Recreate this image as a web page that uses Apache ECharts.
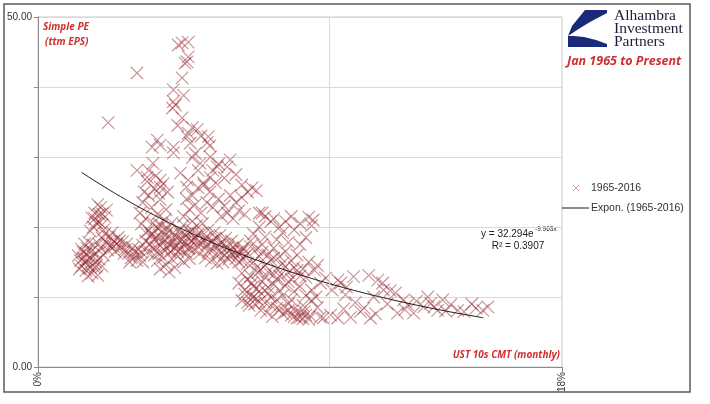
<!DOCTYPE html>
<html><head><meta charset="utf-8">
<script src="https://cdn.jsdelivr.net/npm/echarts@6/dist/echarts.min.js"></script>
<style>html,body{margin:0;padding:0;background:#fff}#c{width:710px;height:404px}</style>
</head><body><div id="c"></div>
<script>
const seriesName = '1965-2016';
const trendName = 'Expon. (1965-2016)';
const xTickLabels = {0: '0%', 18: '18%'};
const yTickLabels = {0: '0.00', 50: '50.00'};

// [UST 10y yield %, Simple PE (ttm EPS)]
const clusterLowLeft = [[1.38,15.9],[1.45,15.2],[1.5,14.4],[1.55,16.4],[1.6,15.0],[1.65,13.8],[1.7,16.9],[1.75,14.6],[1.8,15.6],[1.85,13.4],[1.9,17.4],[1.95,14.2],[2.0,16.2],[2.05,13.1],[2.1,15.4],[2.15,17.0],[2.2,14.4],[1.6,17.6],[1.72,13.0],[1.85,16.6],[1.5,16.8],[1.98,15.0],[2.08,17.6],[1.42,14.0],[1.55,15.6],[1.7,15.3],[1.8,14.2],[1.9,15.8],[2.0,14.4],[1.65,16.2],[1.75,17.8]];
const clusterLeftUpper = [[1.85,21.3],[1.95,22.0],[2.0,20.6],[2.1,21.8],[2.15,22.8],[2.2,20.3],[2.3,21.4],[2.35,22.4],[1.9,20.0],[2.05,23.2],[2.25,19.6],[1.8,19.4],[1.95,21.2],[2.1,20.7],[2.2,21.9]];
const clusterLeftBand = [[2.2,18.4],[2.3,19.0],[2.35,17.8],[2.45,18.6],[2.5,17.3],[2.55,19.2],[2.6,18.0],[2.7,17.6],[2.75,18.5],[2.85,17.1],[2.9,17.9],[3.0,16.8],[3.05,17.6],[2.4,16.7],[2.65,16.5],[2.95,16.2],[3.1,16.2],[3.2,15.6],[3.3,16.5],[3.4,15.2],[3.5,15.9],[3.6,15.0],[3.25,17.0],[3.45,16.8],[3.15,15.0],[2.25,16.0],[2.4,17.6],[2.6,17.2],[2.8,18.0],[3.35,15.8],[3.55,16.4]];
const outliers = [[2.41,34.9],[3.4,42.0]];
const clusterMidUpper = [[3.5,22.0],[3.6,23.5],[3.7,21.2],[3.8,24.5],[3.9,22.8],[4.0,25.5],[4.1,21.8],[4.2,23.9],[4.3,26.2],[4.4,22.5],[3.65,25.0],[3.95,20.6],[4.15,24.8],[4.35,21.0],[3.75,26.5],[4.05,27.3],[4.45,25.0],[3.55,20.4],[4.25,20.2]];
const clusterCore = [[3.8,19.5],[3.9,18.8],[4.0,18.2],[4.1,19.8],[4.2,18.5],[4.3,17.8],[4.4,18.9],[4.5,17.5],[4.6,18.3],[4.7,17.0],[4.8,17.8],[4.9,16.8],[5.0,17.4],[5.1,16.3],[5.2,17.0],[3.85,17.5],[3.95,16.9],[4.05,17.1],[4.15,16.2],[4.25,19.3],[4.35,16.7],[4.45,19.8],[4.55,16.4],[4.65,19.2],[4.75,18.6],[4.85,19.5],[4.95,18.2],[5.05,19.0],[5.15,18.5],[5.25,18.0],[4.0,16.0],[4.3,15.6],[4.6,15.4],[4.8,15.8],[3.7,18.0],[3.6,17.4],[3.75,16.4],[4.1,15.2],[4.4,14.6],[4.7,14.2],[4.5,13.6],[4.2,14.0],
  [3.9,19.0],[4.05,18.6],[4.2,17.3],[4.35,18.2],[4.5,19.4],[4.6,17.7],[4.75,17.3],[4.9,18.9],[5.05,17.8],[5.2,19.3],[4.45,16.9],[4.8,16.5],[5.15,16.9],[3.7,19.2],[4.15,20.4],[4.6,20.6],[5.0,20.3]];
const clusterCoreRight = [[5.3,19.5],[5.4,18.5],[5.5,17.8],[5.6,19.0],[5.7,18.2],[5.8,17.5],[5.9,16.8],[6.0,18.0],[6.1,17.2],[6.2,16.5],[6.3,17.8],[6.4,16.0],[6.5,17.0],[6.6,15.8],[6.7,16.5],[6.8,15.5],[6.9,16.2],[7.0,15.2],[7.1,15.8],[7.2,14.8],[5.45,20.2],[5.65,20.5],[5.85,19.6],[6.05,19.2],[6.25,18.8],[6.45,18.4],[6.65,18.0],[6.85,17.5],[7.05,17.0],[5.35,16.8],[5.55,16.2],[5.75,15.6],[5.95,15.2],[6.15,14.8],[6.35,15.0],[5.2,15.5],[5.0,15.0],
  [5.35,18.2],[5.5,19.0],[5.65,17.6],[5.8,18.6],[5.95,17.9],[6.1,18.4],[6.25,17.4],[6.4,17.6],[6.55,16.6],[6.7,17.1],[6.85,16.4],[7.0,16.5],[5.5,17.2],[5.85,16.4],[6.2,16.0],[6.55,15.4],[6.9,15.0],[5.3,20.8]];
const clusterUpperBand = [[5.0,21.5],[5.2,22.5],[5.4,23.2],[5.6,22.0],[5.8,23.5],[6.0,22.8],[6.2,24.0],[6.4,23.0],[6.6,24.5],[6.8,23.5],[7.0,24.2],[7.2,25.0],[7.35,25.6],[7.5,25.2],[5.3,24.5],[5.5,25.6],[5.7,26.0],[5.9,25.0],[6.1,26.3],[6.3,21.5],[6.5,22.0],[6.7,21.2],[6.9,22.3],[7.1,21.8],[5.1,24.0],[7.6,22.0],[7.8,21.5],[8.0,20.8],[7.7,22.0],[8.1,21.2],[8.5,20.8],[8.7,21.5],[9.0,20.5],[9.3,21.4],[9.45,21.0],[9.4,20.2],[8.3,20.0]];
const clusterHigh = [[4.1,32.4],[3.92,31.4],[4.2,31.7],[5.23,32.0],[4.65,30.6],[4.65,31.4],[5.3,29.9],[5.57,29.1],[5.92,30.0],[6.16,28.6],[6.6,29.6],[6.5,28.6],[3.4,28.1],[3.8,28.1],[3.95,29.1],[3.75,27.1],[4.2,26.7],[4.89,27.7],[5.16,26.7],[5.5,28.1],[5.92,27.1],[6.0,28.1],[5.68,26.3],[5.1,25.7],[4.2,25.7],[5.16,33.4],[5.12,32.9],[5.47,33.9],[5.85,32.9],[5.82,32.1],[5.3,34.2],[5.6,33.0],[5.9,31.6],[5.4,30.5],[6.2,29.0],[6.8,27.5],[6.4,27.0],[7.0,26.0]];
const clusterSpike = [[5.16,46.4],[4.95,46.3],[4.82,46.0],[5.16,44.3],[5.12,43.6],[5.05,43.4],[4.95,41.3],[4.65,39.6],[4.65,37.9],[4.62,37.0],[4.72,37.4],[4.95,35.6],[4.8,34.5],[5.0,38.8]];
const clusterLowRight = [[6.9,12.0],[7.1,11.0],[7.2,12.5],[7.3,10.2],[7.4,11.5],[7.5,9.8],[7.6,10.8],[7.7,12.2],[7.8,9.2],[7.9,10.5],[8.0,8.8],[8.1,11.8],[8.2,9.6],[8.3,8.2],[8.4,10.2],[8.5,7.8],[8.6,9.0],[8.7,7.4],[8.8,8.3],[8.9,7.0],[9.0,7.8],[9.1,6.9],[9.2,7.4],[9.3,6.8],[7.0,9.5],[7.25,8.8],[7.45,9.0],[7.65,8.1],[7.85,7.8],[8.05,7.2],[7.3,13.0],[7.55,13.5],[7.8,12.8],[8.2,12.5],[8.5,11.6],[8.8,10.8],[9.0,11.5],[9.2,10.2],[9.4,9.5],[9.7,12.0],[9.8,7.0],[9.6,8.5],
  [7.2,9.2],[7.4,10.0],[7.6,9.3],[7.8,10.9],[8.0,9.9],[8.2,8.4],[8.4,7.6],[8.6,8.1],[8.8,7.2],[9.0,7.1],[9.15,7.9],[9.35,7.3],[7.1,10.4],[7.5,11.2],[7.9,11.4],[8.3,10.9],[8.7,9.6],[9.1,8.8],[7.35,12.0],[7.0,13.4],[7.65,13.9],[8.1,13.2],[8.6,12.2],[9.4,11.0],[9.55,10.0]];
const clusterMidRight = [[7.2,16.2],[7.4,15.0],[7.6,15.8],[7.8,14.5],[8.0,15.3],[8.2,14.0],[8.4,14.8],[8.6,13.5],[8.8,14.2],[9.0,13.0],[7.5,14.2],[7.9,13.6],[8.3,13.0],[8.7,12.5],[9.2,12.8],[9.5,13.8],[9.3,15.0],[8.9,16.0],[8.5,16.5],[8.1,17.0],[7.7,17.5],[7.3,18.0],[9.6,14.5],
  [7.3,17.2],[7.5,16.8],[7.7,16.4],[7.9,16.0],[8.1,15.6],[8.3,15.8],[8.5,14.3],[8.7,15.2],[8.9,13.8],[9.1,14.0],[7.4,19.0],[7.8,18.6],[8.2,18.2],[8.6,17.8],[9.0,17.5],[9.2,18.5],[8.8,19.6],[8.4,19.2],[7.6,20.0]];
const clusterTail = [[9.88,12.7],[10.3,12.4],[10.4,12.0],[10.84,12.9],[10.6,11.4],[11.36,13.1],[11.67,12.4],[11.84,12.0],[11.53,10.0],[11.87,11.0],[10.56,10.3],[12.28,10.6],[12.56,9.6],[12.7,8.9],[13.39,10.0],[13.49,9.1],[13.25,8.6],[13.73,8.1],[14.18,8.9],[14.42,8.1],[14.63,7.9],[15.04,8.4],[15.28,8.1],[10.05,7.4],[10.3,7.0],[10.74,7.1],[11.42,7.0],[11.08,7.9],[12.35,7.7],[12.9,7.7],[9.7,7.1],[10.1,11.0],[10.9,9.2],[11.2,8.4],[12.0,9.0],[12.1,10.9],[13.0,9.4],[13.9,9.6],[14.9,9.0],[15.45,8.6],[10.5,8.3],[11.6,7.6],[12.6,8.2],[13.6,8.6],[14.0,8.0]];

// Exponential trend line as drawn in the picture
const trendX = [1.5, 2, 3, 4, 5, 6, 7, 8, 9, 10, 11, 12, 13, 14, 15, 15.3];
const trendY = [27.81, 26.46, 23.95, 21.68, 19.62, 17.76, 16.08, 14.55, 13.17, 11.92, 10.79, 9.77, 8.84, 8.00, 7.25, 7.03];

const scatterPoints = [].concat(clusterLowLeft, clusterLeftUpper, clusterLeftBand, outliers, clusterMidUpper,
  clusterCore, clusterCoreRight, clusterUpperBand, clusterHigh, clusterSpike, clusterLowRight, clusterMidRight, clusterTail);
const trendPoints = trendX.map((x, i) => [x, trendY[i]]);

const red = '#cf2f2f';
const chart = echarts.init(document.getElementById('c'), null, {renderer: 'canvas'});
chart.setOption({
  animation: false,
  backgroundColor: '#fff',
  grid: {left: 38, top: 17, right: 148, bottom: 37, show: true, borderColor: '#c8c8c8', borderWidth: 1, containLabel: false},
  xAxis: {
    type: 'value', min: 0, max: 18, interval: 18,
    axisLine: {show: true, lineStyle: {color: '#8c8c8c', width: 1}},
    axisTick: {show: true, length: 5, lineStyle: {color: '#8c8c8c'}},
    axisLabel: {rotate: 90, fontSize: 10, color: '#333', fontFamily: 'Liberation Sans', margin: 5,
      formatter: v => xTickLabels[v] !== undefined ? xTickLabels[v] : ''},
    splitLine: {show: false}
  },
  yAxis: {
    type: 'value', min: 0, max: 50, interval: 10,
    axisLine: {show: true, lineStyle: {color: '#8c8c8c', width: 1}},
    axisTick: {show: true, length: 4, lineStyle: {color: '#8c8c8c'}},
    axisLabel: {fontSize: 10, color: '#333', fontFamily: 'Liberation Sans', margin: 6,
      formatter: v => yTickLabels[v] !== undefined ? yTickLabels[v] : ''},
    splitLine: {show: true, lineStyle: {color: '#d9d9d9', width: 1}}
  },
  legend: {show: false},
  series: [
    {
      name: seriesName, type: 'scatter', data: scatterPoints,
      symbol: 'path://M0,0L10,10M10,0L0,10', symbolSize: 12.5, symbolKeepAspect: true,
      itemStyle: {color: 'none', borderColor: 'rgba(150,38,44,0.62)', borderWidth: 1.2},
      emphasis: {disabled: true}, z: 3,
      markLine: {silent: true, symbol: 'none', label: {show: false},
        lineStyle: {color: '#d9d9d9', type: 'solid', width: 1}, data: [{xAxis: 10}]}
    },
    {
      name: trendName, type: 'line', data: trendPoints, smooth: true, symbol: 'none',
      lineStyle: {color: '#1a1a1a', width: 1}, itemStyle: {color: '#1a1a1a'}, z: 4
    }
  ],
  graphic: [
    {type: 'rect', shape: {x: 4, y: 4, width: 686, height: 388}, style: {fill: 'none', stroke: '#5a5a5a', lineWidth: 1.5}, silent: true},
    {type: 'text', left: 43, top: 22, style: {text: 'Simple PE', fill: red, font: 'italic bold 10px "Open Sans"'}},
    {type: 'text', left: 45, top: 37, style: {text: '(ttm EPS)', fill: red, font: 'italic bold 10px "Open Sans"'}},
    {type: 'text', right: 150, top: 350, style: {text: 'UST 10s CMT (monthly)', fill: red, font: 'italic bold 10px "Open Sans"', textAlign: 'right'}},
    {type: 'text', left: 567, top: 55, style: {text: 'Jan 1965 to Present', fill: red, font: 'italic bold 12.5px "Open Sans"'}},
    // logo
    {type: 'polygon', shape: {points: [[585,10],[607,10],[607,13],[590,22],[577,30],[568,36],[572,26]]}, style: {fill: '#1b2a78'}},
    {type: 'polygon', shape: {points: [[568,36],[568,47],[607,47],[607,44],[596,40],[584,37],[574,36]]}, style: {fill: '#1b2a78'}},
    {type: 'text', left: 614, top: 8, style: {text: 'Alhambra', fill: '#1d1d3a', font: '15.5px "Liberation Serif"'}},
    {type: 'text', left: 614, top: 21, style: {text: 'Investment', fill: '#1d1d3a', font: '15.5px "Liberation Serif"'}},
    {type: 'text', left: 614, top: 34, style: {text: 'Partners', fill: '#1d1d3a', font: '15.5px "Liberation Serif"'}},
    // legend
    {type: 'line', shape: {x1: 573, y1: 185, x2: 579, y2: 191}, style: {stroke: '#d49a9a', lineWidth: 1}},
    {type: 'line', shape: {x1: 579, y1: 185, x2: 573, y2: 191}, style: {stroke: '#d49a9a', lineWidth: 1}},
    {type: 'text', x: 591, y: 188, style: {text: seriesName, fill: '#333', font: '10.5px "Liberation Sans"', textVerticalAlign: 'middle'}},
    {type: 'line', shape: {x1: 562, y1: 208, x2: 589, y2: 208}, style: {stroke: '#1a1a1a', lineWidth: 1}},
    {type: 'text', x: 591, y: 208, style: {text: trendName, fill: '#333', font: '10.5px "Liberation Sans"', textVerticalAlign: 'middle'}},
    // equation
    {type: 'text', x: 481, y: 229, style: {text: 'y = 32.294e', fill: '#222', font: '10px "Liberation Sans"'}},
    {type: 'text', x: 535, y: 226, style: {text: '-9.963x', fill: '#222', font: '6.5px "Liberation Sans"'}},
    {type: 'text', x: 518, y: 241, style: {text: 'R² = 0.3907', fill: '#222', font: '10px "Liberation Sans"', textAlign: 'center'}}
  ]
});
</script></body></html>
